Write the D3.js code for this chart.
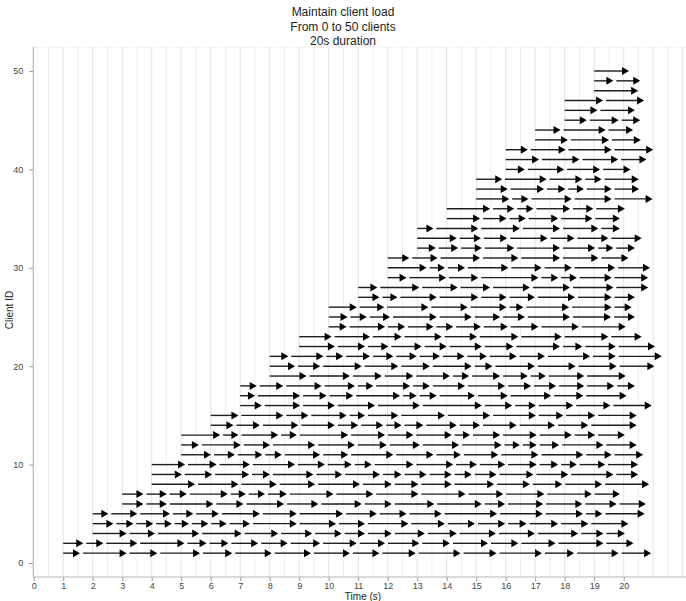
<!DOCTYPE html>
<html>
<head>
  <meta charset="utf-8">
  <title>Maintain client load</title>
  <script src="https://d3js.org/d3.v7.min.js"></script>
  <style>
    body { margin: 0; background: #fff; }
    text { font-family: "Liberation Sans", Arial, sans-serif; }
  </style>
</head>
<body>
  <svg id="chart" width="686" height="601"></svg>

  <script>
    // Title lines
    var titleLines = ["Maintain client load", "From 0 to 50 clients", "20s duration"];

    // Time (s) when each client joins, client 1 first
    var clientStart = [1, 1, 2, 2, 2, 3, 3, 4, 4, 4, 5, 5, 5, 6, 6, 7, 7, 7, 8, 8, 8, 9, 9, 10, 10,
                       10, 11, 11, 12, 12, 12, 13, 13, 13, 14, 14, 15, 15, 15, 16, 16, 16, 17, 17, 18, 18, 18, 19, 19, 19];

    // End time (s) of every request, one list per client
    var requestEnds = [
      [1.57, 3.15, 4.19, 5.64, 6.73, 8.07, 9.40, 10.72, 11.72, 12.95, 14.47, 15.69, 17.23, 18.32, 19.83, 20.93],
      [1.68, 2.36, 3.51, 5.11, 5.86, 6.60, 7.61, 8.61, 9.71, 10.95, 11.91, 13.07, 14.11, 15.40, 16.43, 17.69, 19.31, 20.33],
      [3.15, 4.11, 5.61, 7.05, 8.29, 9.44, 10.44, 11.23, 12.14, 13.26, 14.34, 15.67, 16.99, 18.46, 19.31, 20.04],
      [2.70, 3.38, 4.05, 4.68, 5.26, 5.92, 6.54, 7.33, 8.92, 10.25, 11.23, 12.70, 13.94, 14.96, 15.98, 16.71, 17.78, 18.80, 20.16],
      [2.53, 3.51, 4.62, 5.41, 6.28, 7.67, 8.92, 10.49, 11.63, 12.64, 13.83, 15.71, 17.26, 18.62, 19.28, 20.71],
      [3.72, 4.51, 6.09, 7.11, 8.49, 9.65, 11.12, 12.14, 13.58, 15.19, 15.98, 17.27, 18.60, 19.76, 20.75],
      [3.72, 4.51, 5.19, 6.58, 7.19, 7.84, 8.58, 10.16, 11.51, 13.04, 14.64, 15.92, 17.31, 18.92, 19.87],
      [5.47, 6.94, 8.24, 9.54, 11.06, 12.14, 13.04, 14.17, 15.61, 16.82, 17.92, 19.27, 20.86],
      [5.02, 6.05, 7.30, 8.01, 9.48, 10.46, 11.74, 12.47, 13.32, 14.17, 14.85, 15.69, 16.94, 18.12, 19.65, 20.49],
      [5.13, 6.20, 7.33, 8.86, 9.87, 10.78, 11.46, 12.87, 14.22, 15.02, 15.98, 17.05, 17.78, 18.41, 19.37, 20.49],
      [6.01, 6.82, 7.75, 8.41, 9.71, 10.66, 12.19, 13.55, 14.48, 15.75, 17.11, 18.63, 19.59, 20.66],
      [5.60, 7.02, 8.01, 9.54, 10.89, 11.97, 13.09, 14.42, 15.86, 16.48, 17.05, 17.81, 19.31, 20.44],
      [6.32, 6.94, 8.29, 8.92, 10.66, 11.91, 12.87, 14.17, 14.79, 15.81, 17.05, 18.24, 19.03, 20.04],
      [6.77, 7.67, 8.97, 10.21, 11.00, 11.85, 12.47, 13.21, 14.34, 15.13, 16.37, 17.67, 18.80, 20.44],
      [6.94, 8.46, 9.31, 10.61, 11.23, 12.36, 13.94, 15.47, 17.02, 17.95, 19.03, 20.44],
      [7.73, 9.03, 10.21, 11.57, 13.09, 15.19, 16.22, 17.02, 18.29, 19.55, 20.95],
      [7.50, 9.03, 9.93, 10.83, 12.42, 12.98, 13.66, 14.96, 16.07, 17.54, 18.63, 20.10],
      [7.56, 8.46, 9.76, 10.89, 11.51, 12.76, 13.43, 14.62, 15.98, 16.86, 17.71, 18.66, 19.68, 20.38],
      [9.25, 10.72, 11.80, 12.87, 14.11, 14.76, 15.81, 16.75, 17.36, 18.66, 20.07],
      [8.86, 9.71, 11.12, 12.36, 13.43, 14.85, 15.55, 16.99, 18.37, 19.76, 21.04],
      [8.63, 9.82, 10.49, 11.40, 12.19, 12.98, 13.77, 14.60, 15.36, 16.37, 17.33, 18.86, 19.73, 21.29],
      [10.21, 11.23, 12.02, 13.15, 14.00, 15.19, 16.26, 17.84, 18.60, 19.73, 21.06],
      [10.10, 11.40, 12.47, 13.83, 15.02, 16.43, 17.90, 19.48, 20.61],
      [10.61, 11.91, 12.59, 13.55, 14.22, 15.16, 16.07, 17.11, 18.48, 20.07],
      [10.64, 11.29, 12.08, 13.66, 14.85, 15.81, 16.65, 18.18, 19.57, 20.38],
      [10.95, 11.88, 13.38, 14.71, 16.03, 16.60, 18.15, 19.59, 20.27],
      [11.72, 12.33, 13.66, 15.07, 16.03, 16.99, 18.35, 19.59, 20.38],
      [11.65, 13.07, 14.37, 15.47, 16.82, 18.18, 19.65, 20.83],
      [12.64, 13.98, 15.07, 17.11, 17.78, 18.41, 19.59, 20.83],
      [13.32, 13.94, 14.62, 16.09, 17.22, 18.24, 19.71, 20.89],
      [12.73, 13.69, 15.13, 16.43, 17.84, 19.14, 20.16],
      [13.63, 14.39, 15.19, 16.29, 17.84, 19.03, 19.65, 20.38],
      [14.34, 15.16, 16.05, 17.42, 18.33, 19.48, 20.61],
      [13.55, 15.07, 16.48, 17.84, 19.14, 19.87],
      [15.13, 16.03, 16.68, 17.78, 18.94, 19.87],
      [15.47, 16.29, 16.94, 18.18, 18.97, 20.04],
      [16.12, 16.77, 18.24, 19.59, 20.98],
      [16.07, 17.30, 18.02, 18.65, 19.59, 20.52],
      [15.88, 17.39, 18.60, 19.25, 20.51],
      [16.65, 17.98, 19.20, 20.23],
      [17.13, 18.50, 19.81, 20.77],
      [16.75, 18.03, 19.59, 21.00],
      [18.11, 19.50, 20.58],
      [17.86, 19.39, 20.32],
      [18.75, 19.83, 20.56],
      [19.11, 20.38],
      [19.30, 20.69],
      [20.49],
      [19.65, 20.56],
      [20.18]
    ];

    var xTicks = [0, 1, 2, 3, 4, 5, 6, 7, 8, 9, 10, 11, 12, 13, 14, 15, 16, 17, 18, 19, 20];
    var yTicks = [0, 10, 20, 30, 40, 50];

    var svg = d3.select("#chart");

    var plotTop = 47, plotBottom = 577, plotLeft = 33.3, plotRight = 686;

    var x = d3.scaleLinear().domain([0, 20]).range([33.7, 623.7]);
    var y = d3.scaleLinear().domain([0, 50]).range([563, 71]);

    // light vertical grid every half second
    var gridVals = d3.range(1, 45).map(function(k) { return k / 2; });
    svg.append("g")
      .selectAll("line")
      .data(gridVals)
      .join("line")
      .attr("x1", function(d) { return x(d); })
      .attr("x2", function(d) { return x(d); })
      .attr("y1", plotTop)
      .attr("y2", plotBottom)
      .attr("stroke", function(d) { return d % 1 === 0 ? "#e4e4e4" : "#efefef"; })
      .attr("stroke-width", 1);

    svg.append("line")
      .attr("x1", plotLeft).attr("x2", plotRight)
      .attr("y1", plotTop).attr("y2", plotTop)
      .attr("stroke", "#efefef");

    // axes
    var xAxis = svg.append("g")
      .attr("transform", "translate(0," + plotBottom + ")")
      .call(d3.axisBottom(x).tickValues(xTicks).tickSize(4).tickPadding(2));
    xAxis.select(".domain").remove();
    xAxis.selectAll("line").attr("stroke", "#9a9a9a");
    xAxis.selectAll("text").attr("fill", "#444").style("font-size", "9px");

    var yAxis = svg.append("g")
      .attr("transform", "translate(" + plotLeft + ",0)")
      .call(d3.axisLeft(y).tickValues(yTicks).tickSize(4).tickPadding(6));
    yAxis.select(".domain").remove();
    yAxis.selectAll("line").attr("stroke", "#9a9a9a");
    yAxis.selectAll("text").attr("fill", "#444").style("font-size", "9px");

    svg.append("line")
      .attr("x1", plotLeft).attr("x2", plotRight)
      .attr("y1", plotBottom).attr("y2", plotBottom)
      .attr("stroke", "#b5b5b5").attr("stroke-width", 1.2);
    svg.append("line")
      .attr("x1", plotLeft).attr("x2", plotLeft)
      .attr("y1", plotTop).attr("y2", plotBottom)
      .attr("stroke", "#b5b5b5").attr("stroke-width", 1.2);

    // build request segments
    var gap = 0.1;
    var segments = [];
    requestEnds.forEach(function(ends, i) {
      ends.forEach(function(e, j) {
        var s = j === 0 ? clientStart[i] : ends[j - 1] + gap;
        segments.push({ client: i + 1, start: s, end: e });
      });
    });

    var head = 7, half = 4;
    var arrows = svg.append("g");
    arrows.selectAll("line")
      .data(segments)
      .join("line")
      .attr("x1", function(d) { return x(d.start); })
      .attr("x2", function(d) { return x(d.end) - head + 1; })
      .attr("y1", function(d) { return y(d.client); })
      .attr("y2", function(d) { return y(d.client); })
      .attr("stroke", "#1e1e1e")
      .attr("stroke-width", 1.4);

    arrows.selectAll("path")
      .data(segments)
      .join("path")
      .attr("d", function(d) {
        var xe = x(d.end), yc = y(d.client);
        return "M" + (xe - head) + "," + (yc - half) + "L" + xe + "," + yc + "L" + (xe - head) + "," + (yc + half) + "Z";
      })
      .attr("fill", "#000");

    // titles
    svg.append("g")
      .selectAll("text")
      .data(titleLines)
      .join("text")
      .attr("x", 343)
      .attr("y", function(d, i) { return 16 + i * 14.5; })
      .attr("text-anchor", "middle")
      .style("font-size", "12px")
      .attr("fill", "#222")
      .text(function(d) { return d; });

    svg.append("text")
      .attr("x", 363)
      .attr("y", 600)
      .attr("text-anchor", "middle")
      .style("font-size", "10px")
      .attr("fill", "#222")
      .text("Time (s)");

    svg.append("text")
      .attr("transform", "translate(13,310) rotate(-90)")
      .attr("text-anchor", "middle")
      .style("font-size", "10px")
      .attr("fill", "#222")
      .text("Client ID");
  </script>
</body>
</html>
